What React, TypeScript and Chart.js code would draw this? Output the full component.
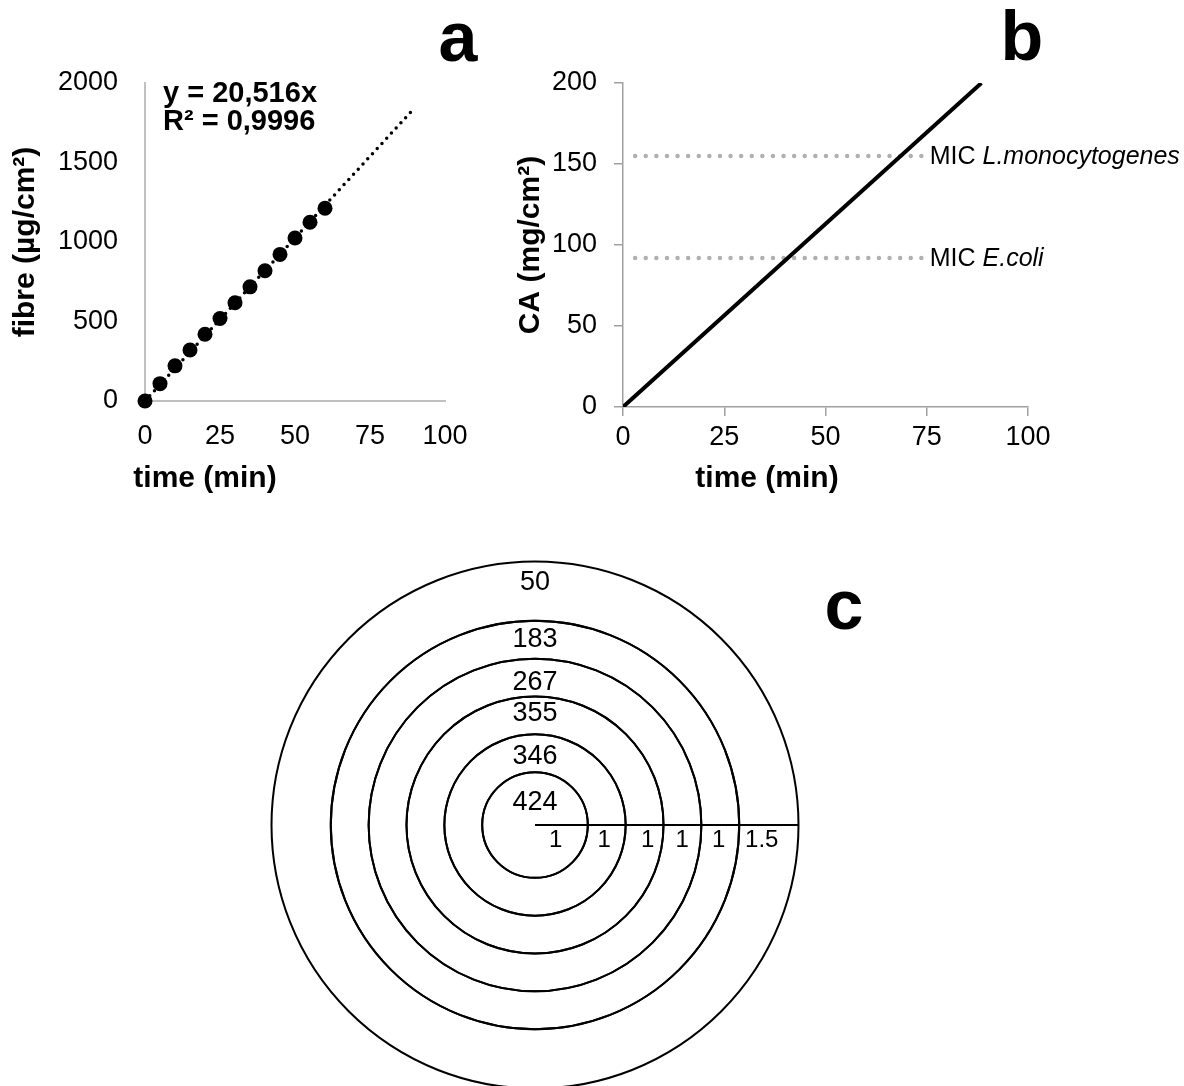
import React, { useEffect, useRef } from "react";
import { Chart, registerables } from "chart.js";

Chart.register(...registerables);

const FONT = "'Liberation Sans', Arial, Helvetica, sans-serif";

// ---------- Panel a data ----------
const fibreTimes = [0, 5, 10, 15, 20, 25, 30, 35, 40, 45, 50, 55, 60];
const fibreValues = [0, 109, 221, 321, 420, 519, 618, 718, 819, 922, 1025, 1124, 1212];
const trendTimes = [0, 90];
const trendValues = [0, 1846];
const equationLines = ["y = 20,516x", "R² = 0,9996"];
const aXTicks = [0, 25, 50, 75, 100];
const aYTicks = [0, 500, 1000, 1500, 2000];

// ---------- Panel b data ----------
const caTimes = [0, 88.5];
const caValues = [0, 200];
const micNames = ["L.monocytogenes", "E.coli"];
const micValues = [155, 92];
const micTimeRange = [3, 75];
const bXTicks = [0, 25, 50, 75, 100];
const bYTicks = [0, 50, 100, 150, 200];

// ---------- Panel c data (outermost ring first) ----------
const zoneValues = [50, 183, 267, 355, 346, 424];
const zoneWidths = [1.5, 1, 1, 1, 1, 1];

// drawing-only layout (ring thickness in px, label placement fractions)
const RING_WEIGHTS = [59.5, 38, 38, 38, 38, 53];
const VALUE_FRAC = [0.64, 0.51, 0.38, 0.55, 0.41, 0.43];
const WIDTH_FRAC = [0.38, 0.46, 0.49, 0.58, 0.43, 0.39];

const plainTick = (v: any) => String(v);

function AppCharts() {
  const aRef = useRef<HTMLCanvasElement | null>(null);
  const bRef = useRef<HTMLCanvasElement | null>(null);
  const cRef = useRef<HTMLCanvasElement | null>(null);

  useEffect(() => {
    Chart.defaults.font.family = FONT;
    Chart.defaults.color = "#000";
    const charts: Chart[] = [];

    // ---------------- Panel a ----------------
    const aPlugin = {
      id: "aText",
      afterDraw(chart: any) {
        const ctx = chart.ctx;
        const ca = chart.chartArea;
        ctx.save();
        ctx.fillStyle = "#000";
        ctx.font = `bold 29px ${FONT}`;
        ctx.textAlign = "left";
        ctx.textBaseline = "alphabetic";
        ctx.fillText(equationLines[0], ca.left + 18, 102);
        ctx.fillText(equationLines[1], ca.left + 18, 130);
        ctx.font = `bold 30px ${FONT}`;
        ctx.textAlign = "center";
        ctx.textBaseline = "middle";
        ctx.fillText("time (min)", ca.left + 60, 479);
        ctx.font = `bold 70px ${FONT}`;
        ctx.textBaseline = "alphabetic";
        ctx.fillText("a", 458, 61);
        ctx.restore();
      },
    };
    if (aRef.current) {
      charts.push(
        new Chart(aRef.current, {
          type: "scatter",
          data: {
            datasets: [
              {
                data: trendTimes.map((x, i) => ({ x, y: trendValues[i] })),
                showLine: true,
                borderColor: "#000",
                borderWidth: 3.5,
                borderDash: [0, 7],
                borderCapStyle: "round",
                pointRadius: 0,
                order: 1,
              } as any,
              {
                data: fibreTimes.map((x, i) => ({ x, y: fibreValues[i] })),
                showLine: false,
                pointRadius: 7.5,
                pointBackgroundColor: "#000",
                pointBorderColor: "#000",
                pointBorderWidth: 0,
                clip: false,
                order: 0,
              } as any,
            ],
          },
          options: {
            responsive: false,
            animation: false,
            events: [],
            layout: { padding: { left: 0, top: 83, right: 45, bottom: 0 } },
            plugins: { legend: { display: false }, tooltip: { enabled: false } },
            scales: {
              x: {
                type: "linear",
                min: 0,
                max: 100,
                afterBuildTicks: (s: any) => {
                  s.ticks = aXTicks.map((v) => ({ value: v }));
                },
                ticks: { color: "#000", font: { size: 27 }, padding: 19, maxRotation: 0, callback: plainTick },
                grid: { display: false, drawTicks: false },
                border: { display: true, color: "#c0c0c0", width: 2 },
                afterFit: (s: any) => {
                  s.height = 109;
                },
              },
              y: {
                type: "linear",
                min: 0,
                max: 2000,
                afterBuildTicks: (s: any) => {
                  s.ticks = aYTicks.map((v) => ({ value: v }));
                },
                ticks: { color: "#000", font: { size: 27 }, padding: 27, callback: plainTick },
                grid: { display: false, drawTicks: false },
                border: { display: true, color: "#c0c0c0", width: 2 },
                title: {
                  display: true,
                  text: "fibre (µg/cm²)",
                  color: "#000",
                  font: { size: 30, weight: "bold" },
                  padding: { top: 8, bottom: 0 },
                },
                afterFit: (s: any) => {
                  s.width = 145;
                },
              },
            },
          } as any,
          plugins: [aPlugin],
        })
      );
    }

    // ---------------- Panel b ----------------
    const bPlugin = {
      id: "bText",
      afterDraw(chart: any) {
        const ctx = chart.ctx;
        const ca = chart.chartArea;
        const xs = chart.scales.x;
        const ys = chart.scales.y;
        ctx.save();
        ctx.fillStyle = "#000";
        ctx.textBaseline = "middle";
        ctx.textAlign = "left";
        micNames.forEach((name, i) => {
          const x0 = xs.getPixelForValue(micTimeRange[1]) + 3;
          const y0 = ys.getPixelForValue(micValues[i]) + 1;
          ctx.font = `25px ${FONT}`;
          ctx.fillText("MIC ", x0, y0);
          const w = ctx.measureText("MIC ").width;
          ctx.font = `italic 25px ${FONT}`;
          ctx.fillText(name, x0 + w, y0);
        });
        ctx.font = `bold 30px ${FONT}`;
        ctx.textAlign = "center";
        ctx.fillText("time (min)", ca.left + 144, 479);
        ctx.font = `bold 70px ${FONT}`;
        ctx.textBaseline = "alphabetic";
        ctx.fillText("b", 532, 60);
        ctx.restore();
      },
    };
    if (bRef.current) {
      const gridB = {
        display: true,
        drawOnChartArea: false,
        drawTicks: true,
        tickLength: 9,
        color: "#a0a0a0",
        lineWidth: 1.5,
      };
      charts.push(
        new Chart(bRef.current, {
          type: "scatter",
          data: {
            datasets: [
              {
                data: caTimes.map((x, i) => ({ x, y: caValues[i] })),
                showLine: true,
                borderColor: "#000",
                borderWidth: 4,
                pointRadius: 0,
                order: 0,
              } as any,
              ...micValues.map(
                (v) =>
                  ({
                    data: micTimeRange.map((x) => ({ x, y: v })),
                    showLine: true,
                    borderColor: "#b0b0b0",
                    borderWidth: 4.5,
                    borderDash: [0, 10.6],
                    borderCapStyle: "round",
                    pointRadius: 0,
                    order: 1,
                  } as any)
              ),
            ],
          },
          options: {
            responsive: false,
            animation: false,
            events: [],
            layout: { padding: { left: 0, top: 83, right: 156, bottom: 0 } },
            plugins: { legend: { display: false }, tooltip: { enabled: false } },
            scales: {
              x: {
                type: "linear",
                min: 0,
                max: 100,
                afterBuildTicks: (s: any) => {
                  s.ticks = bXTicks.map((v) => ({ value: v }));
                },
                ticks: { color: "#000", font: { size: 27 }, padding: 5, maxRotation: 0, callback: plainTick },
                grid: gridB,
                border: { display: true, color: "#a0a0a0", width: 1.5 },
                afterFit: (s: any) => {
                  s.height = 103;
                },
              },
              y: {
                type: "linear",
                min: 0,
                max: 200,
                afterBuildTicks: (s: any) => {
                  s.ticks = bYTicks.map((v) => ({ value: v }));
                },
                ticks: { color: "#000", font: { size: 27 }, padding: 17, callback: plainTick },
                grid: gridB,
                border: { display: true, color: "#a0a0a0", width: 1.5 },
                title: {
                  display: true,
                  text: "CA (mg/cm²)",
                  color: "#000",
                  font: { size: 30, weight: "bold" },
                  padding: { top: 23, bottom: 0 },
                },
                afterFit: (s: any) => {
                  s.width = 133;
                },
              },
            },
          } as any,
          plugins: [bPlugin],
        })
      );
    }

    // ---------------- Panel c ----------------
    const cPlugin = {
      id: "cText",
      afterDatasetsDraw(chart: any) {
        const ctx = chart.ctx;
        ctx.save();
        ctx.fillStyle = "#000";
        ctx.textAlign = "center";
        ctx.textBaseline = "middle";
        zoneValues.forEach((v, i) => {
          const arc = chart.getDatasetMeta(i).data[0];
          const { x, y, innerRadius, outerRadius } = arc;
          const t = outerRadius - innerRadius;
          ctx.font = `27px ${FONT}`;
          ctx.fillText(String(v), x, y - (innerRadius + t * VALUE_FRAC[i]));
          ctx.font = `24px ${FONT}`;
          ctx.fillText(String(zoneWidths[i]), x + innerRadius + t * WIDTH_FRAC[i], y + 15);
        });
        ctx.font = `bold 70px ${FONT}`;
        ctx.textBaseline = "alphabetic";
        ctx.fillText("c", 844 - 265, 629 - 555);
        ctx.restore();
      },
    };
    if (cRef.current) {
      charts.push(
        new Chart(cRef.current, {
          type: "pie",
          data: {
            labels: ["zone"],
            datasets: zoneValues.map(
              (v, i) =>
                ({
                  label: String(v),
                  data: [1],
                  weight: RING_WEIGHTS[i],
                  backgroundColor: "rgba(0,0,0,0)",
                  borderColor: "#000",
                  borderWidth: 2,
                } as any)
            ),
          },
          options: {
            responsive: false,
            animation: false,
            events: [],
            radius: 263.5,
            rotation: 90,
            layout: { padding: { left: 0, top: 0, right: 80, bottom: 0 } },
            plugins: { legend: { display: false }, tooltip: { enabled: false } },
          } as any,
          plugins: [cPlugin],
        })
      );
    }

    return () => {
      charts.forEach((c) => c.destroy());
    };
  }, []);

  return (
    <div
      style={{
        position: "absolute",
        left: 0,
        top: 0,
        width: 1184,
        height: 1086,
        overflow: "hidden",
        background: "#fff",
      }}
    >
      <canvas ref={aRef} width={490} height={510} style={{ position: "absolute", left: 0, top: 0 }} />
      <canvas ref={bRef} width={694} height={510} style={{ position: "absolute", left: 490, top: 0 }} />
      <canvas ref={cRef} width={620} height={540} style={{ position: "absolute", left: 265, top: 555 }} />
    </div>
  );
}

export default function App() {
  return <AppCharts />;
}
